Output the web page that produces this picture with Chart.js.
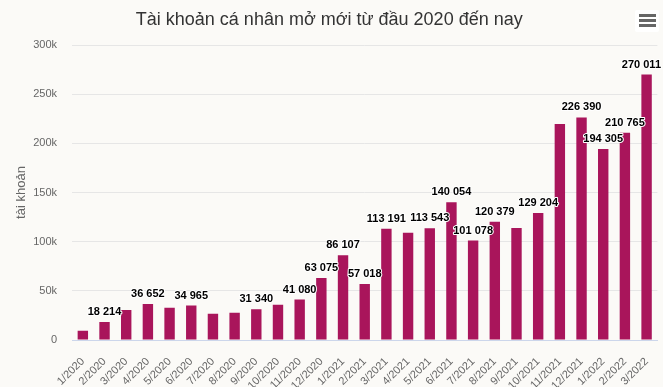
<!DOCTYPE html>
<html>
<head>
<meta charset="utf-8">
<script src="https://cdn.jsdelivr.net/npm/chart.js@4.4.1/dist/chart.umd.min.js"></script>
<style>
    html, body { margin: 0; padding: 0; background: #fbfaf7; }
    #wrap { position: relative; width: 663px; height: 387px; }
    #menuBtn { position: absolute; left: 635px; top: 10px; width: 24px; height: 22px; background: #ffffff; border-radius: 2px; }
    #menuBtn span { position: absolute; left: 4px; width: 17px; height: 3px; background: #666666; }
</style>
</head>
<body>
<div id="wrap">
    <canvas id="accountChart" width="663" height="387"></canvas>
    <div id="menuBtn"><span style="top: 4px;"></span><span style="top: 9px;"></span><span style="top: 14px;"></span></div>
</div>
<script>
// Tài khoản cá nhân mở mới theo tháng
const months = ['1/2020', '2/2020', '3/2020', '4/2020', '5/2020', '6/2020', '7/2020', '8/2020', '9/2020',
    '10/2020', '11/2020', '12/2020', '1/2021', '2/2021', '3/2021', '4/2021', '5/2021', '6/2021', '7/2021',
    '8/2021', '9/2021', '10/2021', '11/2021', '12/2021', '1/2022', '2/2022', '3/2022'];
const newAccounts = [9500, 18214, 30500, 36652, 32900, 34965, 26800, 27800, 31340,
    35900, 41080, 63075, 86107, 57018, 113191, 109000, 113543, 140054, 101078,
    120379, 114000, 129204, 219700, 226390, 194305, 210765, 270011];
const yTicks = [0, 50000, 100000, 150000, 200000, 250000, 300000];

const FONT = '"Liberation Sans", Arial, Helvetica, sans-serif';
const BAR_COLOR = '#a9155b';

function formatNumber(v) {
    return String(v).replace(/\B(?=(\d{3})+(?!\d))/g, ' ');
}

function boxesOverlap(a, b) {
    return Math.abs(a.x - b.x) < (a.w + b.w) / 2 && Math.abs(a.y - b.y) < (a.h + b.h) / 2;
}

// data labels, hide the ones that collide (bigger values win)
const barLabelsPlugin = {
    id: 'barLabels',
    afterDatasetsDraw(chart) {
        const meta = chart.getDatasetMeta(0);
        const ctx = chart.ctx;
        ctx.save();
        ctx.font = 'bold 11px ' + FONT;
        ctx.textAlign = 'center';
        ctx.textBaseline = 'middle';

        const boxes = meta.data.map((bar, i) => {
            const text = formatNumber(newAccounts[i]);
            const w = ctx.measureText(text).width;
            const x = Math.min(bar.x, chart.width - 2 - w / 2);
            return { i, text, x, y: bar.y - 10, w, h: 14 };
        });

        const shown = [];
        boxes.slice().sort((a, b) => newAccounts[b.i] - newAccounts[a.i]).forEach(b => {
            if (!shown.some(s => boxesOverlap(s, b))) shown.push(b);
        });

        shown.forEach(b => {
            ctx.lineWidth = 2;
            ctx.lineJoin = 'round';
            ctx.strokeStyle = '#ffffff';
            ctx.strokeText(b.text, b.x, b.y);
            ctx.fillStyle = '#000000';
            ctx.fillText(b.text, b.x, b.y);
        });
        ctx.restore();
    }
};

let accountChartInstance = null;
function drawAccountChart() {
    const ctx = document.getElementById('accountChart');
    if (accountChartInstance) accountChartInstance.destroy();

    accountChartInstance = new Chart(ctx, {
        type: 'bar',
        data: {
            labels: months,
            datasets: [{
                label: 'tài khoản',
                data: newAccounts,
                backgroundColor: BAR_COLOR,
                borderWidth: 0,
                categoryPercentage: 0.6,
                barPercentage: 0.8
            }]
        },
        options: {
            responsive: false,
            animation: false,
            layout: { padding: { left: 0, right: 4.5, top: 0, bottom: 0 } },
            plugins: {
                legend: { display: false },
                tooltip: { enabled: false },
                title: {
                    display: true,
                    text: 'Tài khoản cá nhân mở mới từ đầu 2020 đến nay',
                    color: '#333333',
                    font: { family: FONT, size: 18, weight: 'normal', lineHeight: 1.2 },
                    padding: { top: 9, bottom: 14.4 }
                }
            },
            scales: {
                x: {
                    grid: { display: false },
                    border: { display: true, color: '#ccd6eb', width: 1 },
                    ticks: {
                        color: '#666666',
                        font: { family: FONT, size: 11 },
                        minRotation: 45,
                        maxRotation: 45,
                        autoSkip: false,
                        padding: 7
                    },
                    afterFit(scale) { scale.height = 47; }
                },
                y: {
                    min: 0,
                    max: 300000,
                    afterBuildTicks(scale) { scale.ticks = yTicks.map(v => ({ value: v })); },
                    grid: {
                        color: c => c.tick && c.tick.value === 0 ? 'rgba(0,0,0,0)' : '#e6e6e6',
                        drawTicks: false
                    },
                    border: { display: false },
                    ticks: {
                        color: '#666666',
                        font: { family: FONT, size: 11 },
                        padding: 15,
                        callback: v => v === 0 ? '0' : (v / 1000) + 'k'
                    },
                    title: {
                        display: true,
                        text: 'tài khoản',
                        color: '#666666',
                        font: { family: FONT, size: 13 },
                        padding: { top: 14, bottom: 0 }
                    },
                    afterFit(scale) { scale.width = 72; }
                }
            }
        },
        plugins: [barLabelsPlugin]
    });
}

drawAccountChart();
</script>
</body>
</html>
